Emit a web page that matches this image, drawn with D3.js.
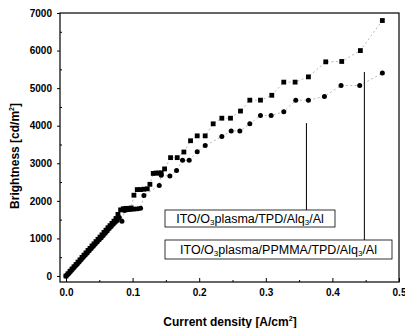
<!DOCTYPE html>
<html>
<head>
<meta charset="utf-8">
<script src="https://cdn.jsdelivr.net/npm/d3@7"></script>
<style>
  body { margin: 0; background: #fff; }
  svg { display: block; font-family: 'Liberation Sans', Arial, sans-serif; }
</style>
</head>
<body>
<svg id="plot" width="405" height="328"></svg>
<script>
// current density [A/cm2], brightness [cd/m2]
const squares = [
  [0.000, 0], [0.003, 60], [0.006, 125], [0.009, 185], [0.012, 245], [0.015, 305],
  [0.018, 370], [0.021, 430], [0.024, 495], [0.027, 555], [0.030, 615], [0.033, 680],
  [0.036, 735], [0.039, 800], [0.042, 855], [0.045, 915], [0.048, 975], [0.051, 1035],
  [0.054, 1095], [0.057, 1160], [0.060, 1220], [0.063, 1285], [0.066, 1340], [0.069, 1400],
  [0.072, 1460], [0.075, 1530], [0.078, 1640], [0.082, 1760], [0.086, 1790], [0.090, 1800],
  [0.094, 1800], [0.098, 1810], [0.102, 2150], [0.107, 2300], [0.112, 2300], [0.117, 2310],
  [0.122, 2320], [0.126, 2440], [0.131, 2730], [0.135, 2740], [0.139, 2740], [0.143, 2745],
  [0.148, 2850], [0.157, 3150], [0.167, 3150], [0.177, 3300], [0.187, 3600], [0.197, 3730],
  [0.209, 3730], [0.221, 4050], [0.234, 4200], [0.247, 4200], [0.262, 4390], [0.276, 4680],
  [0.292, 4680], [0.309, 4810], [0.327, 5160], [0.344, 5160], [0.364, 5300], [0.390, 5700],
  [0.414, 5710], [0.442, 6000], [0.475, 6800]
];

const circles = [
  [0.000, 0], [0.002, 30], [0.005, 85], [0.008, 145], [0.011, 205], [0.014, 265],
  [0.017, 320], [0.020, 380], [0.023, 440], [0.026, 500], [0.029, 560], [0.032, 615],
  [0.035, 675], [0.038, 735], [0.041, 790], [0.044, 850], [0.047, 905], [0.050, 965],
  [0.053, 1020], [0.056, 1080], [0.059, 1140], [0.062, 1200], [0.065, 1265], [0.068, 1320],
  [0.071, 1380], [0.074, 1430], [0.077, 1480], [0.080, 1560], [0.084, 1460], [0.088, 1740],
  [0.092, 1760], [0.096, 1770], [0.100, 1775], [0.104, 1780], [0.108, 1790], [0.112, 1800],
  [0.117, 2140], [0.140, 2410], [0.143, 2680], [0.156, 2660], [0.166, 2810], [0.175, 3080],
  [0.185, 3080], [0.197, 3310], [0.209, 3470], [0.234, 3710], [0.248, 3860], [0.261, 3860],
  [0.276, 4050], [0.292, 4270], [0.308, 4270], [0.327, 4370], [0.345, 4680], [0.364, 4680],
  [0.388, 4780], [0.413, 5070], [0.441, 5070], [0.475, 5400]
];

const xTicks = [0.0, 0.1, 0.2, 0.3, 0.4, 0.5];
const xMinor = [0.05, 0.15, 0.25, 0.35, 0.45];
const yTicks = [0, 1000, 2000, 3000, 4000, 5000, 6000, 7000];
const yMinor = [500, 1500, 2500, 3500, 4500, 5500, 6500];

// labels and the x/top-y of their pointer lines
const labels = ['ITO/O|3|plasma/TPD/Alq|3|/Al', 'ITO/O|3|plasma/PPMMA/TPD/Alq|3|/Al'];
const pointers = [[0.361, 4070], [0.448, 5430]];

const frame = { left: 60, right: 399, top: 13, bottom: 282 };

const svg = d3.select('#plot');

const x = d3.scaleLinear().domain([-0.009, 0.5]).range([frame.left, frame.right]);
const y = d3.scaleLinear().domain([-160, 7000]).range([frame.bottom, frame.top]);

// axes
svg.append('g')
  .attr('transform', `translate(0,${frame.bottom})`)
  .call(d3.axisBottom(x).tickValues(xTicks).tickSize(-4).tickPadding(7).tickFormat(d3.format('.1f')));
svg.append('g')
  .attr('transform', `translate(0,${frame.bottom})`)
  .call(d3.axisBottom(x).tickValues(xMinor).tickSize(-2).tickFormat(''));

svg.append('g')
  .attr('transform', `translate(${frame.left},0)`)
  .call(d3.axisLeft(y).tickValues(yTicks).tickSize(3).tickPadding(5).tickFormat(d3.format('d')));
svg.append('g')
  .attr('transform', `translate(${frame.left},0)`)
  .call(d3.axisLeft(y).tickValues(yMinor).tickSize(-2).tickFormat(''));

svg.selectAll('.domain').remove();
svg.selectAll('.tick line').attr('stroke', '#000').attr('stroke-width', 1);
svg.selectAll('.tick text')
  .attr('fill', '#000')
  .attr('font-size', 10)
  .attr('font-weight', 'bold');

svg.append('rect')
  .attr('x', frame.left)
  .attr('y', frame.top)
  .attr('width', frame.right - frame.left)
  .attr('height', frame.bottom - frame.top)
  .attr('fill', 'none')
  .attr('stroke', '#000')
  .attr('stroke-width', 1.2);

// axis titles
const xTitle = svg.append('text')
  .attr('x', 230)
  .attr('y', 326)
  .attr('text-anchor', 'middle')
  .attr('font-size', 12)
  .attr('font-weight', 'bold')
  .text('Current density [A/cm');
xTitle.append('tspan').attr('dy', -5).attr('font-size', 7).text('2');
xTitle.append('tspan').attr('dy', 5).text(']');

const yTitle = svg.append('text')
  .attr('transform', 'translate(19,156) rotate(-90)')
  .attr('text-anchor', 'middle')
  .attr('font-size', 12)
  .attr('font-weight', 'bold')
  .text('Brightness [cd/m');
yTitle.append('tspan').attr('dy', -5).attr('font-size', 7).text('2');
yTitle.append('tspan').attr('dy', 5).text(']');

// series: thin dashed connector + markers
const line = d3.line().x((d) => x(d[0])).y((d) => y(d[1]));

[squares, circles].forEach((s) => {
  svg.append('path')
    .datum(s)
    .attr('fill', 'none')
    .attr('stroke', '#888')
    .attr('stroke-width', 0.6)
    .attr('stroke-dasharray', '2,2.5')
    .attr('d', line);
});

svg.append('g').selectAll('rect')
  .data(squares)
  .join('rect')
  .attr('x', (d) => x(d[0]) - 2.4)
  .attr('y', (d) => y(d[1]) - 2.4)
  .attr('width', 4.8)
  .attr('height', 4.8)
  .attr('fill', '#000');

svg.append('g').selectAll('circle')
  .data(circles)
  .join('circle')
  .attr('cx', (d) => x(d[0]))
  .attr('cy', (d) => y(d[1]))
  .attr('r', 2.5)
  .attr('fill', '#000');

// label boxes with pointer lines
const boxes = [
  { x: 165, y: 210, w: 170, h: 17 },
  { x: 165, y: 240, w: 227, h: 19 }
];

boxes.forEach((b, i) => {
  svg.append('line')
    .attr('x1', x(pointers[i][0]))
    .attr('x2', x(pointers[i][0]))
    .attr('y1', y(pointers[i][1]))
    .attr('y2', b.y)
    .attr('stroke', '#000')
    .attr('stroke-width', 1);

  svg.append('rect')
    .attr('x', b.x)
    .attr('y', b.y)
    .attr('width', b.w)
    .attr('height', b.h)
    .attr('fill', '#fff')
    .attr('stroke', '#000')
    .attr('stroke-width', 0.8);

  const t = svg.append('text')
    .attr('x', b.x + b.w / 2)
    .attr('y', b.y + b.h / 2 + 4)
    .attr('text-anchor', 'middle')
    .attr('font-size', 12.5);
  labels[i].split('|').forEach((part, k) => {
    const sub = k % 2 === 1;
    t.append('tspan')
      .attr('font-size', sub ? 8 : 12.5)
      .attr('dy', sub ? 2 : (k > 0 ? -2 : 0))
      .text(part);
  });
});
</script>
</body>
</html>
